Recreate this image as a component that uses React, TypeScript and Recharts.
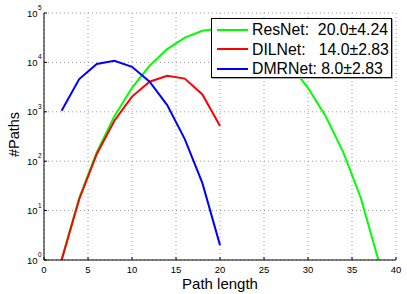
import React from "react";
import { LineChart, Line, XAxis, YAxis, CartesianGrid, Legend } from "recharts";

const resnetX = [2, 4, 6, 8, 10, 12, 14, 16, 18, 20, 22, 24, 26, 28, 30, 32, 34, 36, 38];
const resnetY = [1, 18, 153, 816, 3060, 8568, 18564, 31824, 43758, 48620, 43758, 31824, 18564, 8568, 3060, 816, 153, 18, 1];

const dilnetX = [2, 4, 6, 8, 10, 12, 14, 16, 18, 20];
const dilnetY = [1, 17, 140, 660, 2030, 4070, 5380, 4700, 2250, 515];

const dmrnetX = [2, 4, 6, 8, 10, 12, 14, 16, 18, 20];
const dmrnetY = [1050, 4600, 9300, 10800, 8150, 4070, 1370, 280, 36, 2];

const xTicks = [0, 5, 10, 15, 20, 25, 30, 35, 40];
const yTicks = [1, 10, 100, 1000, 10000, 100000];
// minor log ticks 2..9 per decade
const yMinorTicks = [1, 10, 100, 1000, 10000].flatMap((d) => [2, 3, 4, 5, 6, 7, 8, 9].map((m) => m * d));

const FONT = '"Liberation Sans", Arial, Helvetica, sans-serif';

const toRows = (xs: number[], ys: number[]) => xs.map((x, i) => ({ x, y: ys[i] }));

const series = [
  { name: "ResNet:  20.0±4.24", color: "#00ff00", data: toRows(resnetX, resnetY) },
  { name: "DILNet:   14.0±2.83", color: "#ff0000", data: toRows(dilnetX, dilnetY) },
  { name: "DMRNet: 8.0±2.83", color: "#0000ff", data: toRows(dmrnetX, dmrnetY) },
];

/* eslint-disable @typescript-eslint/no-explicit-any */
function XTick(props: any) {
  const { x, y, payload } = props;
  return (
    <text x={x} y={y} textAnchor="middle" fontSize={9.5} fontFamily={FONT} fill="#000">
      {payload.value}
    </text>
  );
}

function YTick(props: any) {
  const { x, y, payload } = props;
  const exp = Math.round(Math.log10(payload.value));
  return (
    <g fontFamily={FONT} fill="#000">
      <text x={x} y={y + 3.5} textAnchor="end" fontSize={9.5}>
        10
      </text>
      <text x={x + 0.5} y={y - 3} textAnchor="start" fontSize={6.5}>
        {exp}
      </text>
    </g>
  );
}

// keep the plotting order (Recharts sorts the payload by name)
function LegendBox() {
  return (
    <div
      style={{
        border: "1px solid #000",
        background: "#fff",
        boxSizing: "border-box",
        width: 181,
        height: 60,
        paddingTop: 1,
        fontFamily: FONT,
        boxShadow: "1px 1px 0 #aaa",
      }}
    >
      {series.map((s) => (
        <div key={s.name} style={{ display: "flex", alignItems: "center", height: 19.5 }}>
          <svg width={31} height={4} style={{ marginLeft: 5, marginRight: 4, flexShrink: 0 }}>
            <line x1={0} y1={2} x2={31} y2={2} stroke={s.color} strokeWidth={2} />
          </svg>
          <span style={{ fontSize: 15.8, whiteSpace: "pre", color: "#000", lineHeight: "19.5px" }}>{s.name}</span>
        </div>
      ))}
    </div>
  );
}
/* eslint-enable @typescript-eslint/no-explicit-any */

export default function App() {
  return (
    <div style={{ position: "absolute", left: 0, top: 0, width: 407, height: 294, background: "#fff" }}>
      <LineChart width={407} height={294} margin={{ top: 13, right: 11, bottom: 0, left: 0 }}>
        <CartesianGrid stroke="#9a9a9a" strokeDasharray="1 3" />
        <XAxis
          type="number"
          dataKey="x"
          domain={[0, 40]}
          ticks={xTicks}
          allowDataOverflow
          height={34}
          stroke="#000"
          tickSize={-3}
          tickMargin={16}
          tick={<XTick />}
          label={{
            content: (p: any) => (
              <text
                x={p.viewBox.x + p.viewBox.width / 2}
                y={p.viewBox.y + 28.5}
                textAnchor="middle"
                fontSize={15}
                fontFamily={FONT}
                fill="#000"
              >
                Path length
              </text>
            ),
          }}
        />
        <YAxis
          yAxisId="minor"
          scale="log"
          domain={[1, 100000]}
          ticks={yMinorTicks}
          allowDataOverflow
          width={0}
          axisLine={false}
          tick={false}
          tickSize={-2}
          stroke="#000"
        />
        <YAxis
          scale="log"
          domain={[1, 100000]}
          ticks={yTicks}
          allowDataOverflow
          width={44}
          stroke="#000"
          tickSize={-3}
          tickMargin={9.5}
          tick={<YTick />}
          label={{
            content: (p: any) => {
              const cx = 18.5;
              const cy = p.viewBox.y + p.viewBox.height / 2 - 2;
              return (
                <text
                  x={cx}
                  y={cy}
                  transform={`rotate(-90 ${cx} ${cy})`}
                  textAnchor="middle"
                  fontSize={14.5}
                  fontFamily={FONT}
                  fill="#000"
                >
                  #Paths
                </text>
              );
            },
          }}
        />
        <Legend
          layout="vertical"
          align="center"
          verticalAlign="middle"
          wrapperStyle={{ left: 211, top: 18, width: 181, height: 60 }}
          content={<LegendBox />}
        />
        {series.map((s) => (
          <Line
            key={s.name}
            data={s.data}
            dataKey="y"
            name={s.name}
            stroke={s.color}
            strokeWidth={2}
            dot={false}
            type="linear"
            isAnimationActive={false}
          />
        ))}
      </LineChart>
    </div>
  );
}
